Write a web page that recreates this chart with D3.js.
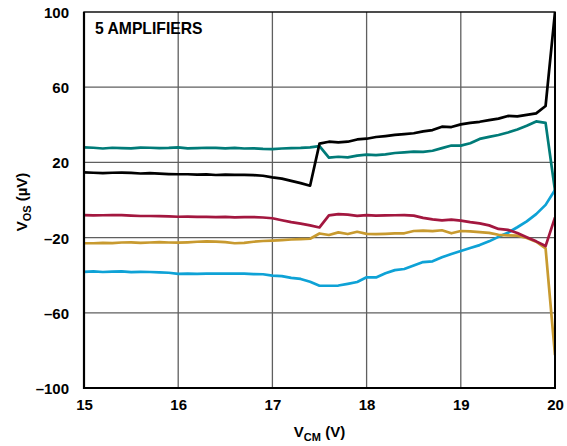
<!DOCTYPE html>
<html><head><meta charset="utf-8">
<script src="https://cdn.jsdelivr.net/npm/d3@7"></script>
<style>body{margin:0;background:#fff}svg{display:block}text{font-family:"Liberation Sans",Arial,sans-serif;font-weight:bold;fill:#000}</style>
</head><body>
<svg id="c" width="567" height="446"></svg>
<script>
const vcm = d3.range(51).map(i => +(15 + i * 0.1).toFixed(1));
const xTicks = [15, 16, 17, 18, 19, 20];
const yTicks = [-100, -60, -20, 20, 60, 100];
const blackSeries = [14.7,14.5,14.3,14.5,14.6,14.4,14.1,14.3,14.0,13.8,13.7,13.7,13.5,13.6,13.3,13.5,13.4,13.4,13.2,12.9,12.0,11.4,10.2,9.0,7.6,30.0,31.0,30.7,31.0,32.2,32.6,33.5,34.0,34.6,35.0,35.5,36.5,37.2,39.0,38.8,40.2,41.0,41.6,42.5,43.3,44.7,44.5,45.3,46.1,50.0,100];
const tealSeries = [28.0,27.8,27.4,27.8,27.6,27.5,27.9,27.8,27.6,27.7,28.0,27.5,27.6,27.8,27.7,27.5,27.7,27.4,27.5,27.2,27.1,27.4,27.6,27.7,28.0,28.7,22.5,23.0,22.7,23.6,24.1,23.9,24.3,25.0,25.3,25.7,25.6,26.2,27.6,29.0,28.9,30.2,32.5,33.6,34.6,35.9,37.5,39.5,41.8,41.0,5.0];
const redSeries = [-8.0,-8.2,-8.1,-8.0,-8.0,-8.3,-8.5,-8.5,-8.6,-8.7,-8.9,-8.8,-9.0,-9.0,-9.1,-9.0,-9.2,-9.1,-9.1,-9.3,-9.7,-10.8,-11.8,-12.6,-13.5,-14.6,-8.2,-7.5,-7.8,-8.4,-8.0,-8.3,-8.2,-8.1,-8.0,-8.3,-9.5,-10.3,-10.8,-10.4,-11.0,-11.8,-12.4,-13.5,-15.4,-15.9,-17.6,-19.8,-22.0,-24.5,-9.2];
const goldSeries = [-23.0,-23.0,-22.8,-22.9,-22.6,-22.5,-22.8,-22.6,-22.4,-22.6,-22.7,-22.5,-22.2,-22.0,-22.1,-22.4,-23.0,-22.8,-22.2,-21.8,-21.6,-21.3,-21.0,-20.8,-20.6,-17.8,-18.6,-17.2,-18.1,-16.9,-18.0,-18.2,-18.0,-17.8,-17.7,-16.5,-16.3,-16.6,-16.1,-17.7,-16.5,-16.7,-17.1,-17.5,-18.5,-18.8,-19.0,-20.2,-22.2,-25.7,-82.5];
const blueSeries = [-38.2,-38.0,-38.3,-38.1,-38.0,-38.4,-38.2,-38.3,-38.5,-38.7,-39.3,-39.2,-39.3,-39.2,-39.2,-39.1,-39.2,-39.2,-39.4,-39.5,-40.2,-40.5,-41.4,-42.0,-43.5,-45.6,-45.6,-45.5,-44.6,-43.6,-41.1,-41.2,-39.0,-37.3,-36.7,-34.8,-33.0,-32.6,-30.5,-28.7,-27.1,-25.5,-24.0,-22.0,-19.6,-17.4,-14.5,-11.4,-7.5,-2.6,5.3];

const series = [
  {values: blueSeries, color: "#0ea2d6"},
  {values: goldSeries, color: "#c89a2f"},
  {values: redSeries, color: "#a3173f"},
  {values: tealSeries, color: "#007b78"},
  {values: blackSeries, color: "#000000"}
];

const L = 84, R = 555, T = 12, B = 388;
const svg = d3.select("#c");
const x = d3.scaleLinear().domain([15, 20]).range([L, R]);
const y = d3.scaleLinear().domain([-100, 100]).range([B, T]);

// grid
svg.append("g").selectAll("line").data(xTicks.slice(1, -1)).join("line")
  .attr("x1", d => x(d)).attr("x2", d => x(d)).attr("y1", T).attr("y2", B)
  .attr("stroke", "#5f5f5f").attr("stroke-width", 1.3);
svg.append("g").selectAll("line").data(yTicks.slice(1, -1)).join("line")
  .attr("y1", d => y(d)).attr("y2", d => y(d)).attr("x1", L).attr("x2", R)
  .attr("stroke", "#5f5f5f").attr("stroke-width", 1.3);

svg.append("defs").append("clipPath").attr("id", "clip").append("rect")
  .attr("x", L).attr("y", T).attr("width", R - L).attr("height", B - T);

const line = d3.line().x((d, i) => x(vcm[i])).y(d => y(d));
svg.append("g").attr("clip-path", "url(#clip)").selectAll("path").data(series).join("path")
  .attr("d", d => line(d.values)).attr("fill", "none")
  .attr("stroke", d => d.color).attr("stroke-width", 2.7).attr("stroke-linejoin", "round");

// frame
svg.append("rect").attr("x", L).attr("y", T).attr("width", R - L).attr("height", B - T)
  .attr("fill", "none").attr("stroke", "#000").attr("stroke-width", 1.4);
svg.append("line").attr("x1", L).attr("x2", L).attr("y1", T).attr("y2", B + 1).attr("stroke", "#000").attr("stroke-width", 2.2);
svg.append("line").attr("x1", L - 1).attr("x2", R + 1).attr("y1", B).attr("y2", B).attr("stroke", "#000").attr("stroke-width", 2.2);
svg.append("line").attr("x1", R).attr("x2", R).attr("y1", T).attr("y2", B).attr("stroke", "#000").attr("stroke-width", 2);

const fmt = d => (d < 0 ? "\u2013" + Math.abs(d) : String(d));
const xAxis = svg.append("g").attr("transform", `translate(0,${B})`)
  .call(d3.axisBottom(x).tickValues(xTicks).tickSize(0).tickPadding(0).tickFormat(d3.format("d")));
xAxis.select(".domain").remove();
xAxis.selectAll("text").attr("y", 21.5).attr("dy", null).attr("font-size", 15)
  .style("font-family", '"Liberation Sans", Arial, sans-serif').style("font-weight", "bold").attr("fill", "#000");

const yAxis = svg.append("g").attr("transform", `translate(${L},0)`)
  .call(d3.axisLeft(y).tickValues(yTicks).tickSize(0).tickPadding(0).tickFormat(fmt));
yAxis.select(".domain").remove();
yAxis.selectAll("text").attr("x", -15).attr("dy", "0.36em").attr("font-size", 15)
  .style("font-family", '"Liberation Sans", Arial, sans-serif').style("font-weight", "bold").attr("fill", "#000");

svg.append("text").attr("x", 95).attr("y", 34).attr("font-size", 15.7).text("5 AMPLIFIERS");

const xl = svg.append("text").attr("x", (L + R) / 2).attr("y", 437).attr("text-anchor", "middle").attr("font-size", 15);
xl.append("tspan").text("V");
xl.append("tspan").attr("font-size", 11).attr("dy", 4).text("CM");
xl.append("tspan").attr("dy", -4).text(" (V)");

const yl = svg.append("text").attr("transform", `translate(26.5,${(T + B) / 2 + 2}) rotate(-90)`)
  .attr("text-anchor", "middle").attr("font-size", 15);
yl.append("tspan").text("V");
yl.append("tspan").attr("font-size", 11).attr("dy", 4).text("OS");
yl.append("tspan").attr("dy", -4).text(" (\u00b5V)");
</script>
</body></html>
